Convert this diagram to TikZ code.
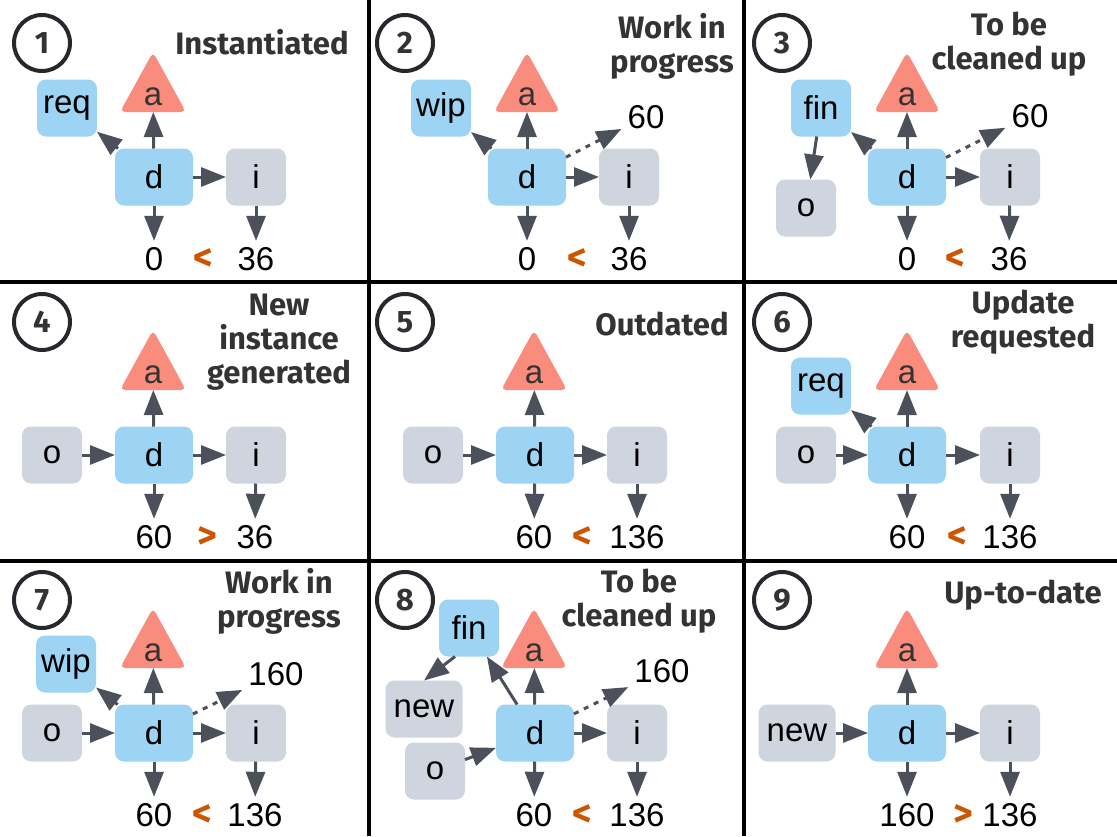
\documentclass[tikz,border=0pt]{standalone}
\usepackage{fontspec}
\setmainfont{Liberation Sans}
\newfontfamily\titlefam{Fira Sans}
\usetikzlibrary{arrows.meta}
\definecolor{cblue}{HTML}{9DD3F3}
\definecolor{cgray}{HTML}{CFD5DE}
\definecolor{csalmon}{HTML}{FA8C7E}
\definecolor{carrow}{HTML}{4B505A}
\definecolor{corange}{HTML}{CC5500}
\definecolor{ctitle}{HTML}{333333}
\definecolor{ccircle}{HTML}{25292E}
\newcommand\boxfont{\fontsize{33}{33}\selectfont}
\newcommand\ttlfont{\titlefam\bfseries\fontsize{31}{34}\selectfont}
\newcommand\ttl[1]{\vtop{\ttlfont\halign{\hfil##\hfil\cr#1\crcr}}}
\begin{document}
\begin{tikzpicture}[x=1pt,y=-1pt,
  box/.style={rounded corners=9pt, minimum width=60pt, minimum height=57pt, inner sep=0pt, outer sep=0pt, font=\boxfont, text=black},
  bbox/.style={box, fill=cblue},
  gbox/.style={box, fill=cgray},
  dbox/.style={bbox, minimum width=78pt},
  wbox/.style={gbox, minimum width=77pt},
  tri/.style={minimum width=66pt, minimum height=60pt, inner sep=0pt, outer sep=0pt, text height=46pt, text depth=0pt, font=\boxfont, text=ctitle,
    path picture={\fill[csalmon, rounded corners=5pt] (path picture bounding box.south west) -- (path picture bounding box.south east) -- (path picture bounding box.north) -- cycle;}},
  num/.style={anchor=base, font=\boxfont, inner sep=6pt, text height=23pt, text depth=0pt, text=black},
  cmp/.style={anchor=base, font=\titlefam\bfseries\fontsize{38}{38}\selectfont, text=corange, inner sep=0pt},
  arr/.style={draw=carrow, line width=3pt, -{Triangle[length=25pt,width=19pt]}},
  darr/.style={arr, dash pattern=on 5pt off 6pt},
  ttlnode/.style={anchor=base, inner sep=0pt, text=ctitle},
  numc/.style={circle, draw=ccircle, line width=4pt, minimum size=56pt, inner sep=0pt, font=\ttlfont, text=ctitle},
  gridline/.style={line width=3.5pt, black}
]
\fill[white] (0,0) rectangle (1117,836);
\useasboundingbox (0,0) rectangle (1117,836);
% grid
\draw[gridline] (369,0) -- (369,836);
\draw[gridline] (744,0) -- (744,836);
\draw[gridline] (0,282) -- (1117,282);
\draw[gridline] (0,561) -- (1117,561);

% ---------- Panel 1
\node[numc] (c1) at (42,43) {1};
\node[ttlnode] (t1) at (262,54) {\ttl{Instantiated}};
\node[tri] (a1) at (153,82) {a};
\node[dbox] (d1) at (154,177) {d};
\node[bbox] (r1) at (67,108) {req};
\node[gbox] (i1) at (256,177) {i};
\node[num] (n1) at (154,270) {0};
\node[cmp] (k1) at (203,270) {<};
\node[num] (m1) at (256,270) {36};
\draw[arr] (d1) -- (a1);
\draw[arr] (d1) -- (r1);
\draw[arr] (d1) -- (i1);
\draw[arr] (d1) -- (n1);
\draw[arr] (i1) -- (m1);

% ---------- Panel 2
\node[numc] (c2) at (405,43) {2};
\node[ttlnode] (t2) at (672,38) {\ttl{Work in\cr progress}};
\node[tri] (a2) at (527,82) {a};
\node[dbox] (d2) at (527,177) {d};
\node[bbox] (r2) at (441,108) {wip};
\node[gbox] (i2) at (629,177) {i};
\node[num] (l2) at (646,128) {60};
\node[num] (n2) at (527,270) {0};
\node[cmp] (k2) at (577,270) {<};
\node[num] (m2) at (629,270) {36};
\draw[arr] (d2) -- (a2);
\draw[arr] (d2) -- (r2);
\draw[darr] (d2) -- (l2);
\draw[arr] (d2) -- (i2);
\draw[arr] (d2) -- (n2);
\draw[arr] (i2) -- (m2);

% ---------- Panel 3
\node[numc] (c3) at (782,43) {3};
\node[ttlnode] (t3) at (1009,35) {\ttl{To be\cr cleaned up}};
\node[tri] (a3) at (907,82) {a};
\node[dbox] (d3) at (907,177) {d};
\node[bbox] (f3) at (821,108) {fin};
\node[gbox] (o3) at (806,208) {o};
\node[gbox] (i3) at (1010,177) {i};
\node[num] (l3) at (1030,127) {60};
\node[num] (n3) at (907,270) {0};
\node[cmp] (k3) at (955,270) {<};
\node[num] (m3) at (1009,270) {36};
\draw[arr] (d3) -- (a3);
\draw[arr] (d3) -- (f3);
\draw[arr] (f3) -- (o3);
\draw[darr] (d3) -- (l3);
\draw[arr] (d3) -- (i3);
\draw[arr] (d3) -- (n3);
\draw[arr] (i3) -- (m3);

% ---------- Panel 4
\node[numc] (c4) at (42,322) {4};
\node[ttlnode] (t4) at (279,315) {\ttl{New\cr instance\cr generated}};
\node[tri] (a4) at (153,360) {a};
\node[dbox] (d4) at (154,455) {d};
\node[gbox] (o4) at (52,455) {o};
\node[gbox] (i4) at (256,455) {i};
\node[num] (n4) at (154,548) {60};
\node[cmp] (k4) at (207,548) {>};
\node[num] (m4) at (255,548) {36};
\draw[arr] (o4) -- (d4);
\draw[arr] (d4) -- (a4);
\draw[arr] (d4) -- (i4);
\draw[arr] (d4) -- (n4);
\draw[arr] (i4) -- (m4);

% ---------- Panel 5
\node[numc] (c5) at (405,322) {5};
\node[ttlnode] (t5) at (662,335) {\ttl{Outdated}};
\node[tri] (a5) at (534,360) {a};
\node[dbox] (d5) at (535,455) {d};
\node[gbox] (o5) at (433,455) {o};
\node[gbox] (i5) at (637,455) {i};
\node[num] (n5) at (534,548) {60};
\node[cmp] (k5) at (582,548) {<};
\node[num] (m5) at (637,548) {136};
\draw[arr] (o5) -- (d5);
\draw[arr] (d5) -- (a5);
\draw[arr] (d5) -- (i5);
\draw[arr] (d5) -- (n5);
\draw[arr] (i5) -- (m5);

% ---------- Panel 6
\node[numc] (c6) at (782,322) {6};
\node[ttlnode] (t6) at (1023,313) {\ttl{Update\cr requested}};
\node[tri] (a6) at (907,360) {a};
\node[dbox] (d6) at (907,455) {d};
\node[bbox] (r6) at (821,386) {req};
\node[gbox] (o6) at (806,455) {o};
\node[gbox] (i6) at (1010,455) {i};
\node[num] (n6) at (907,548) {60};
\node[cmp] (k6) at (957,548) {<};
\node[num] (m6) at (1010,548) {136};
\draw[arr] (o6) -- (d6);
\draw[arr] (d6) -- (r6);
\draw[arr] (d6) -- (a6);
\draw[arr] (d6) -- (i6);
\draw[arr] (d6) -- (n6);
\draw[arr] (i6) -- (m6);

% ---------- Panel 7
\node[numc] (c7) at (42,600) {7};
\node[ttlnode] (t7) at (279,593) {\ttl{Work in\cr progress}};
\node[tri] (a7) at (153,638) {a};
\node[dbox] (d7) at (154,733) {d};
\node[bbox] (r7) at (66,664) {wip};
\node[gbox] (o7) at (52,733) {o};
\node[gbox] (i7) at (256,733) {i};
\node[num] (l7) at (276,685) {160};
\node[num] (n7) at (154,826) {60};
\node[cmp] (k7) at (202,826) {<};
\node[num] (m7) at (255,826) {136};
\draw[arr] (o7) -- (d7);
\draw[arr] (d7) -- (r7);
\draw[arr] (d7) -- (a7);
\draw[darr] (d7) -- (l7);
\draw[arr] (d7) -- (i7);
\draw[arr] (d7) -- (n7);
\draw[arr] (i7) -- (m7);

% ---------- Panel 8
\node[numc] (c8) at (405,600) {8};
\node[ttlnode] (t8) at (639,592) {\ttl{To be\cr cleaned up}};
\node[tri] (a8) at (534,638) {a};
\node[dbox] (d8) at (535,733) {d};
\node[bbox] (f8) at (469,628) {fin};
\node[wbox] (w8) at (424,709) {new};
\node[gbox] (o8) at (435,771) {o};
\node[gbox] (i8) at (637,733) {i};
\node[num] (l8) at (662,682) {160};
\node[num] (n8) at (534,826) {60};
\node[cmp] (k8) at (582,826) {<};
\node[num] (m8) at (637,826) {136};
\draw[arr] (o8) -- (d8);
\draw[arr] (d8) -- (f8);
\draw[arr] ([xshift=-14pt]f8.south) -- (w8.north);
\draw[arr] (d8) -- (a8);
\draw[darr] (d8) -- (l8);
\draw[arr] (d8) -- (i8);
\draw[arr] (d8) -- (n8);
\draw[arr] (i8) -- (m8);

% ---------- Panel 9
\node[numc] (c9) at (782,600) {9};
\node[ttlnode] (t9) at (1023,603) {\ttl{Up-to-date}};
\node[tri] (a9) at (907,638) {a};
\node[dbox] (d9) at (907,733) {d};
\node[wbox] (w9) at (797,733) {new};
\node[gbox] (i9) at (1010,733) {i};
\node[num] (n9) at (907,826) {160};
\node[cmp] (k9) at (963,826) {>};
\node[num] (m9) at (1010,826) {136};
\draw[arr] (w9) -- (d9);
\draw[arr] (d9) -- (a9);
\draw[arr] (d9) -- (i9);
\draw[arr] (d9) -- (n9);
\draw[arr] (i9) -- (m9);
\end{tikzpicture}
\end{document}
